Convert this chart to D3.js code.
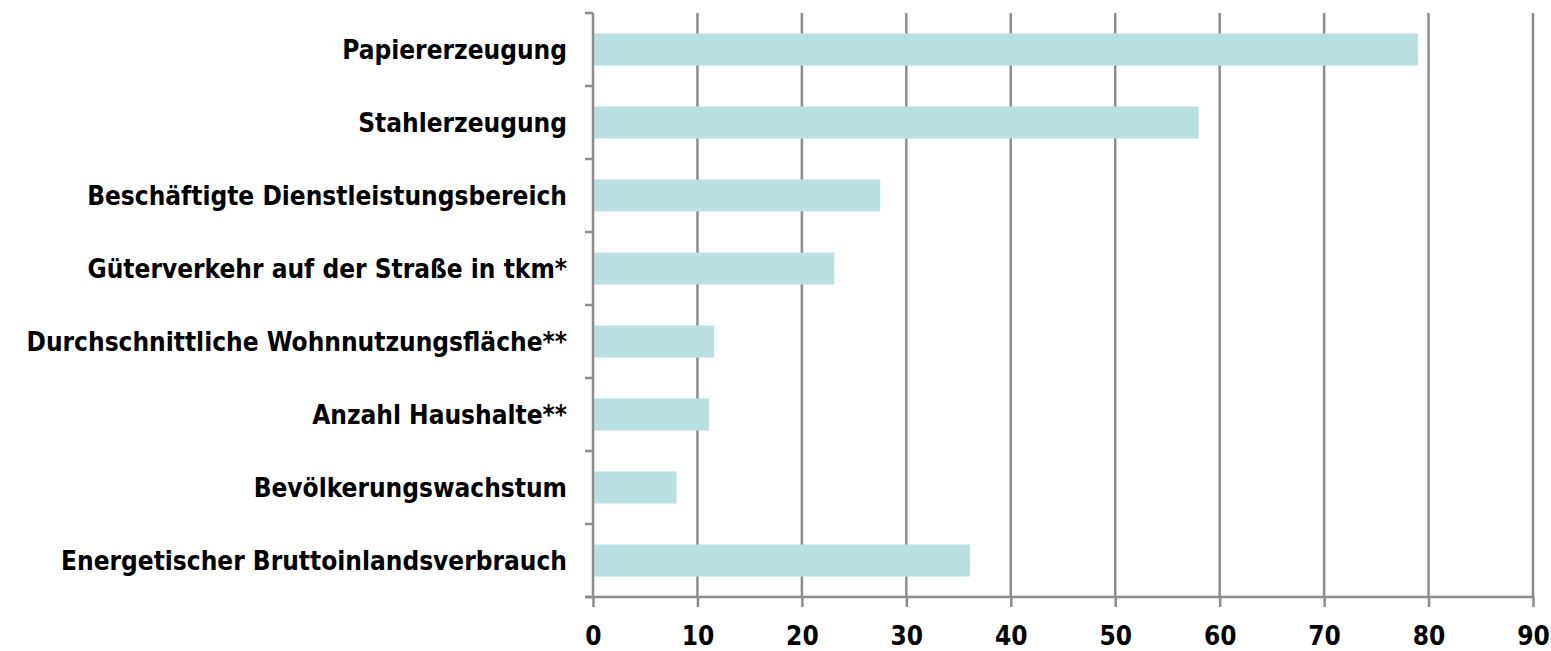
<!DOCTYPE html>
<head>
<title>Entkopplung</title>
<script src="https://d3js.org/d3.v7.min.js"></script>
</head>

<style>
body {
	margin: 0;
	background: #fff;
}
.chart text {
	font-family: "DejaVu Sans Condensed", "DejaVu Sans", Verdana, sans-serif;
	font-weight: bold;
	fill: #000;
}
</style>

<body>
 <svg class="chart"></svg>
</body>

<script>

// categories top to bottom
var categories = [
	"Papiererzeugung",
	"Stahlerzeugung",
	"Beschäftigte Dienstleistungsbereich",
	"Güterverkehr auf der Straße in tkm*",
	"Durchschnittliche Wohnnutzungsfläche**",
	"Anzahl Haushalte**",
	"Bevölkerungswachstum",
	"Energetischer Bruttoinlandsverbrauch"
];
var values = [79, 58, 27.5, 23.1, 11.6, 11.1, 8, 36.1];
var xTicks = [0, 10, 20, 30, 40, 50, 60, 70, 80, 90];

var data = categories.map(function(c, i){ return {name: c, value: values[i]}; });

var margin = {top: 13, right: 18, bottom: 54, left: 593};
var totalW = 1551, totalH = 651;
var width = totalW - margin.left - margin.right;
var height = totalH - margin.top - margin.bottom;

var svg = d3.select(".chart")
	.attr("width", totalW)
	.attr("height", totalH);

var chart = svg.append("g")
	.attr("transform", "translate(" + margin.left + "," + margin.top + ")");

var x = d3.scaleLinear()
	.domain([0, 90])
	.range([0, width]);

var y = d3.scaleBand()
	.domain(categories)
	.range([0, height])
	.paddingInner(0.56)
	.paddingOuter(0.28);

var grey = "#8c8c8c";

// vertical gridlines
chart.selectAll(".grid")
	.data(xTicks.slice(1))
	.enter()
	.append("line")
	.attr("class", "grid")
	.attr("x1", function(d){ return x(d); })
	.attr("x2", function(d){ return x(d); })
	.attr("y1", 0)
	.attr("y2", height)
	.attr("stroke", grey)
	.attr("stroke-width", 2.5);

// bars
chart.selectAll(".bar")
	.data(data)
	.enter()
	.append("rect")
	.attr("class", "bar")
	.attr("x", x(0))
	.attr("y", function(d){ return y(d.name); })
	.attr("width", function(d){ return x(d.value) - x(0); })
	.attr("height", y.bandwidth())
	.attr("fill", "#bae0e3");

// left axis: band boundary ticks
var bounds = categories.map(function(c){ return y(c) - y.step() * y.paddingInner() / 2; });
bounds.push(height);
chart.selectAll(".ytick")
	.data(bounds)
	.enter()
	.append("line")
	.attr("x1", -8)
	.attr("x2", 0)
	.attr("y1", function(d){ return d; })
	.attr("y2", function(d){ return d; })
	.attr("stroke", grey)
	.attr("stroke-width", 2.5);

chart.append("line")
	.attr("x1", 0).attr("x2", 0)
	.attr("y1", 0).attr("y2", height)
	.attr("stroke", grey)
	.attr("stroke-width", 2.5);

// category labels
chart.selectAll(".label")
	.data(data)
	.enter()
	.append("text")
	.attr("class", "label")
	.attr("x", -26)
	.attr("y", function(d){ return y(d.name) + y.bandwidth() / 2; })
	.attr("dy", "0.36em")
	.attr("text-anchor", "end")
	.style("font-size", "26px")
	.text(function(d){ return d.name; });

// bottom axis
var xAxis = d3.axisBottom(x)
	.tickValues(xTicks)
	.tickSize(10)
	.tickPadding(20)
	.tickSizeOuter(0);

var gx = chart.append("g")
	.attr("class", "xAxis")
	.attr("transform", "translate(0," + height + ")")
	.call(xAxis);

gx.select(".domain").remove();
gx.append("line")
	.attr("x1", -8).attr("x2", width)
	.attr("stroke", grey)
	.attr("stroke-width", 2.5);
gx.selectAll(".tick line")
	.attr("stroke", grey)
	.attr("stroke-width", 2.5);
gx.selectAll(".tick text")
	.style("font-size", "26px");

</script>
